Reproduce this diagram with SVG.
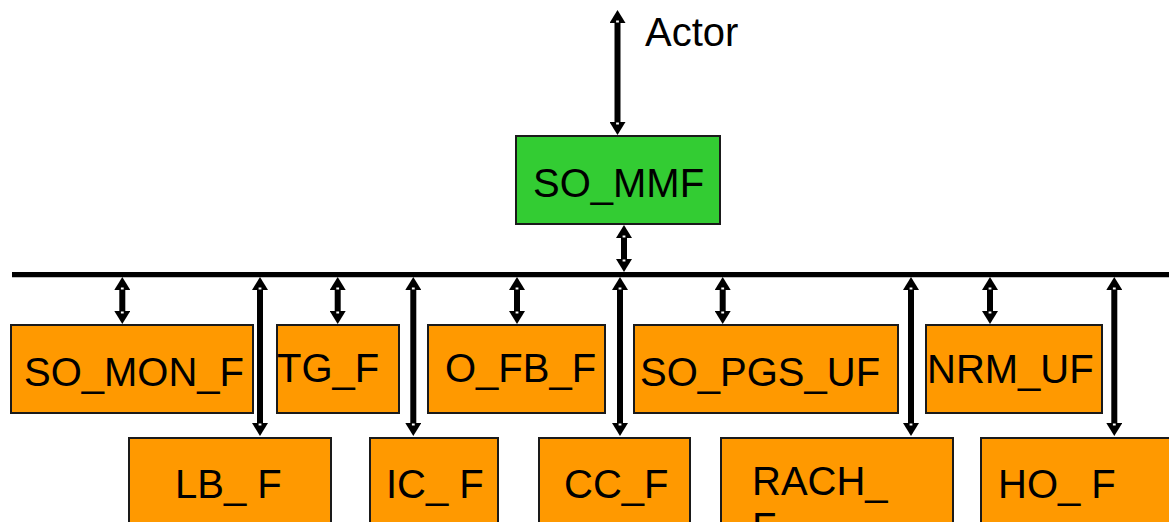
<svg xmlns="http://www.w3.org/2000/svg" width="1169" height="522" viewBox="0 0 1169 522">
<style>
.box{fill:#FF9900;stroke:#1a1a1a;stroke-width:2}
.green{fill:#33CC33;stroke:#1a1a1a;stroke-width:2}
.lbl{font-family:"Liberation Sans",Arial,sans-serif;font-size:40px;fill:#000}
.arr{stroke:#000;stroke-width:6;fill:none;marker-start:url(#ah);marker-end:url(#ah)}
</style>
<defs>
<marker id="ah" markerUnits="userSpaceOnUse" viewBox="0 0 13 16" markerWidth="13" markerHeight="16" refX="3" refY="8" orient="auto-start-reverse">
<path d="M0,0 L13,8 L0,16 Z" fill="#000"/>
<rect x="0.5" y="6.6" width="2" height="2.8" fill="#fff"/>
</marker>
</defs>
<rect width="1169" height="522" fill="#fff"/>
<g id="connectors">
<line x1="12" y1="274.7" x2="1169" y2="274.7" stroke="#000" stroke-width="5.3"/>
<line class="arr" x1="617.5" y1="20" x2="617.5" y2="125"/>
<line class="arr" x1="624" y1="235" x2="624" y2="262"/>
<line class="arr" x1="122.3" y1="287" x2="122.3" y2="314"/>
<line class="arr" x1="337.7" y1="287" x2="337.7" y2="314"/>
<line class="arr" x1="517" y1="287" x2="517" y2="314"/>
<line class="arr" x1="722.7" y1="287" x2="722.7" y2="314"/>
<line class="arr" x1="990" y1="287" x2="990" y2="314"/>
<line class="arr" x1="260" y1="287" x2="260" y2="426"/>
<line class="arr" x1="413.3" y1="287" x2="413.3" y2="426"/>
<line class="arr" x1="620" y1="287" x2="620" y2="426"/>
<line class="arr" x1="911" y1="287" x2="911" y2="426"/>
<line class="arr" x1="1114.3" y1="287" x2="1114.3" y2="426"/>
</g>
<g id="actor"><text class="lbl" x="645" y="46">Actor</text></g>
<g id="SO_MMF"><rect class="green" x="516" y="136" width="204" height="88"/><text class="lbl" x="533" y="197">SO_MMF</text></g>
<g id="SO_MON_F"><rect class="box" x="11" y="325" width="242" height="88"/><text class="lbl" x="24" y="386">SO_MON_F</text></g>
<g id="TG_F"><rect class="box" x="277" y="325" width="122" height="88"/><text class="lbl" x="277" y="382">TG_F</text></g>
<g id="O_FB_F"><rect class="box" x="428" y="325" width="177" height="88"/><text class="lbl" x="445" y="382">O_FB_F</text></g>
<g id="SO_PGS_UF"><rect class="box" x="634" y="325" width="264" height="88"/><text class="lbl" x="640" y="386">SO_PGS_UF</text></g>
<g id="NRM_UF"><rect class="box" x="926" y="325" width="176" height="88"/><text class="lbl" x="927" y="383">NRM_UF</text></g>
<g id="LB_F"><rect class="box" x="129" y="438" width="202" height="100"/><text class="lbl" x="175" y="498">LB_ F</text></g>
<g id="IC_F"><rect class="box" x="370" y="438" width="128" height="100"/><text class="lbl" x="386" y="498">IC_ F</text></g>
<g id="CC_F"><rect class="box" x="539" y="438" width="151" height="100"/><text class="lbl" x="564" y="498">CC_F</text></g>
<g id="RACH_F"><rect class="box" x="721" y="438" width="232" height="100"/><text class="lbl" x="752" y="495">RACH_</text><text class="lbl" x="752" y="541">F</text></g>
<g id="HO_F"><rect class="box" x="981" y="438" width="200" height="100"/><text class="lbl" x="998" y="498">HO_ F</text></g>
</svg>
